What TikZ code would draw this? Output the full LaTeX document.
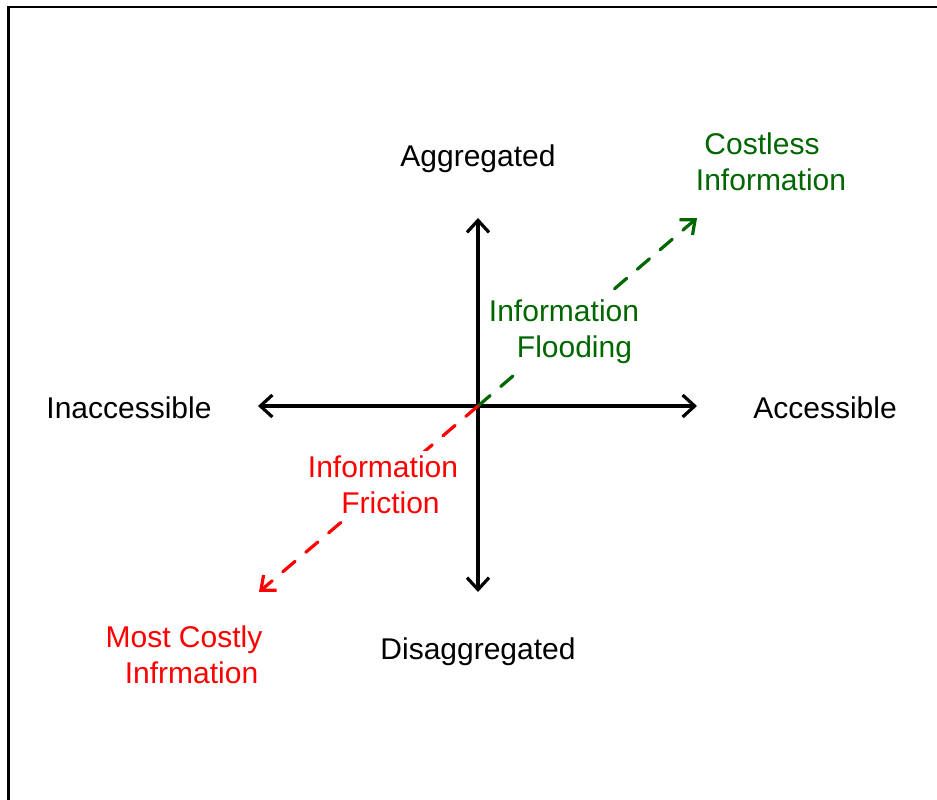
\documentclass[tikz,border=0pt]{standalone}
\usepackage{fontspec}
\setmainfont{Liberation Sans}
\usetikzlibrary{arrows.meta}
\definecolor{dgreen}{RGB}{0,102,0}
\definecolor{pred}{RGB}{255,0,0}
\begin{document}
\begin{tikzpicture}[x=1pt,y=-1pt,
  lbl/.style={font=\fontsize{30}{36}\selectfont, align=center, inner sep=2pt},
  cover/.style={fill=white, inner sep=5pt},
  axis/.style={line width=3.2pt, {Straight Barb[length=12pt,width=22pt,line width=3.2pt]}-{Straight Barb[length=12pt,width=22pt,line width=3.2pt]}},
  diag/.style={line width=3.2pt, line cap=round, dash pattern=on 16pt off 14pt, -{Straight Barb[length=12pt,width=20pt,line width=3.2pt]}}]
\useasboundingbox (0,0) rectangle (937,800);
\clip (0,0) rectangle (937,800);
\draw[line width=2.5pt] (8.5,7) rectangle (960,830);
\coordinate (c) at (478,406);
\coordinate (top) at (478,218);
\coordinate (bot) at (478,592);
\coordinate (lft) at (258,406);
\coordinate (rgt) at (697,406);
\coordinate (ne) at (697,218);
\coordinate (sw) at (259,592);
\draw[axis] (bot) -- (top);
\draw[axis] (lft) -- (rgt);
\draw[diag, dgreen] (c) -- (ne);
\draw[diag, pred] (c) -- (sw);
\node[lbl] (agg) at (478,159) {Aggregated};
\node[lbl] (dis) at (478,652) {Disaggregated};
\node[lbl] (inacc) at (129,408) {Inaccessible};
\node[lbl] (acc) at (825,408) {Accessible};
\node[lbl, text=dgreen] (cost) at (771,162) {\hspace*{-0.6em}Costless\\Information};
\node[lbl, cover, text=dgreen] (flood) at (564,332) {Information\\\hspace*{0.7em}Flooding};
\node[lbl, cover, text=pred] (fric) at (383,485) {Information\\\hspace*{0.5em}Friction};
\node[lbl, text=pred] (most) at (184,655) {Most Costly\\\hspace*{0.5em}Infrmation};
\end{tikzpicture}
\end{document}
